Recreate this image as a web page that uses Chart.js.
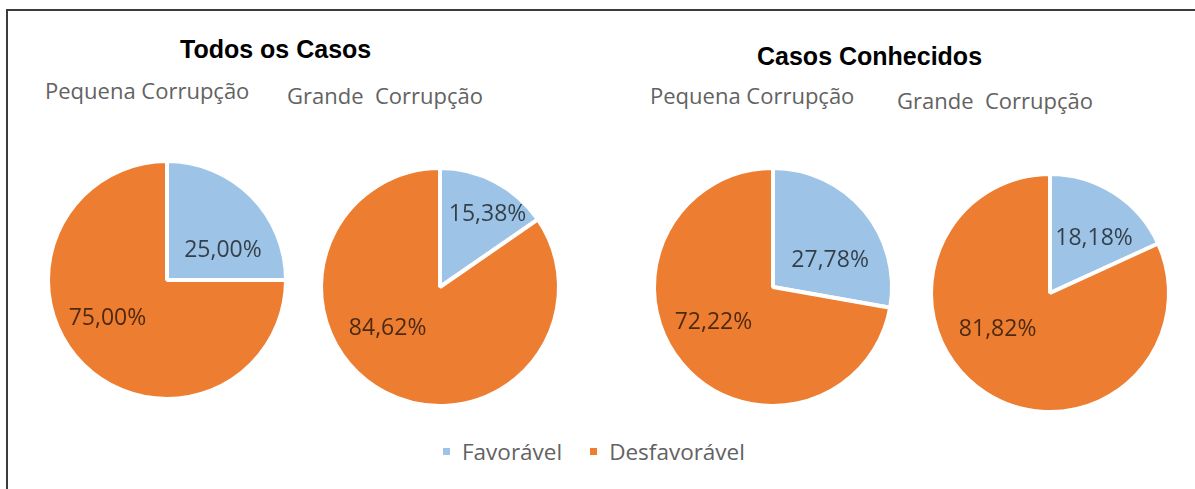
<!DOCTYPE html>
<html lang="pt">
<head>
<meta charset="utf-8">
<title>Pequena e Grande Corrupção</title>
<script src="https://cdn.jsdelivr.net/npm/chart.js@4.4.1/dist/chart.umd.min.js"></script>
<style>
    html, body { margin: 0; padding: 0; background: #fff; }
    #quadro { position: relative; width: 1195px; height: 489px; overflow: hidden; background: #fff; }
    #moldura {
        position: absolute; left: 6px; top: 9px; right: -10px; bottom: -10px;
        border-top: 2px solid #3c3c3c; border-left: 2px solid #3c3c3c;
    }
    .titulo {
        position: absolute; white-space: nowrap; line-height: 25px;
        font: bold 25px "Liberation Sans", Arial, sans-serif; color: #000;
    }
    .subtitulo {
        position: absolute; white-space: pre; line-height: 22px;
        font: 22px "Open Sans", sans-serif; color: #626262;
    }
    .pizza { position: absolute; width: 260px; height: 260px; }
    #legenda {
        position: absolute; left: 443px; top: 436px; display: flex; align-items: center;
        font: 22.5px "Open Sans", sans-serif; color: #626262; white-space: nowrap;
    }
    #legenda .item { display: flex; align-items: center; margin-right: 28px; }
    #legenda .marca { width: 7px; height: 7px; margin-right: 12px; }
</style>
</head>
<body>
<div id="quadro">
    <div id="moldura"></div>
</div>
<script>
"use strict";
/* Dados dos gráficos */
const grupos = ["Todos os Casos", "Casos Conhecidos"];
const tiposCorrupcao = ["Pequena Corrupção", "Grande  Corrupção", "Pequena Corrupção", "Grande  Corrupção"];
const categorias = ["Favorável", "Desfavorável"];
const favoravel = [25.00, 15.38, 27.78, 18.18];
const desfavoravel = [75.00, 84.62, 72.22, 81.82];

/* Aparência */
const cores = ["#9DC3E6", "#ED7D31"];

/* Posição de cada pizza (centro), do subtítulo e dos rótulos (fração do raio) */
const layoutPizzas = [
    { cx: 167, cy: 280, sub: [45, 75], rotulos: [[0.47, -0.25], [-0.50, 0.32]] },
    { cx: 440, cy: 287, sub: [287, 80], rotulos: [[0.40, -0.61], [-0.44, 0.35]] },
    { cx: 773, cy: 287, sub: [650, 80], rotulos: [[0.48, -0.22], [-0.50, 0.30]] },
    { cx: 1050, cy: 293, sub: [897, 85], rotulos: [[0.37, -0.46], [-0.44, 0.31]] }
];
const layoutGrupos = [[180, 35], [757, 42]];

const quadro = document.getElementById("quadro");

/* Formata 25 -> "25,00%" */
function formatarPercentual(valor) {
    return valor.toFixed(2).replace(".", ",") + "%";
}

/* Plugin simples para escrever o valor dentro de cada fatia */
const rotulosFatias = {
    id: "rotulosFatias",
    afterDatasetsDraw(chart, args, opts) {
        const ctx = chart.ctx;
        const valores = chart.data.datasets[0].data;
        chart.getDatasetMeta(0).data.forEach((arco, i) => {
            const { x, y, outerRadius } = arco.getProps(["x", "y", "outerRadius"], true);
            const [fx, fy] = opts.posicoes[i];
            ctx.save();
            ctx.font = "23px 'Open Sans', sans-serif";
            ctx.fillStyle = "rgba(0, 0, 0, 0.68)";
            ctx.textAlign = "center";
            ctx.textBaseline = "middle";
            ctx.fillText(formatarPercentual(valores[i]), x + fx * outerRadius, y + fy * outerRadius);
            ctx.restore();
        });
    }
};

/* Títulos dos grupos */
grupos.forEach((texto, i) => {
    const el = document.createElement("div");
    el.className = "titulo";
    el.textContent = texto;
    el.style.left = layoutGrupos[i][0] + "px";
    el.style.top = layoutGrupos[i][1] + "px";
    quadro.appendChild(el);
});

/* As quatro pizzas */
layoutPizzas.forEach((lp, i) => {
    const sub = document.createElement("div");
    sub.className = "subtitulo";
    sub.textContent = tiposCorrupcao[i];
    sub.style.left = lp.sub[0] + "px";
    sub.style.top = lp.sub[1] + "px";
    quadro.appendChild(sub);

    const caixa = document.createElement("div");
    caixa.className = "pizza";
    caixa.style.left = (lp.cx - 130) + "px";
    caixa.style.top = (lp.cy - 130) + "px";
    const canvas = document.createElement("canvas");
    canvas.width = 260;
    canvas.height = 260;
    caixa.appendChild(canvas);
    quadro.appendChild(caixa);

    new Chart(canvas, {
        type: "pie",
        data: {
            labels: categorias,
            datasets: [{
                data: [favoravel[i], desfavoravel[i]],
                backgroundColor: cores,
                borderColor: "#ffffff",
                borderWidth: 4,
                hoverOffset: 0
            }]
        },
        options: {
            responsive: false,
            animation: false,
            events: [],
            radius: 119,
            layout: { padding: 0 },
            plugins: {
                legend: { display: false },
                tooltip: { enabled: false },
                rotulosFatias: { posicoes: lp.rotulos }
            }
        },
        plugins: [rotulosFatias]
    });
});

/* Legenda comum */
const legenda = document.createElement("div");
legenda.id = "legenda";
categorias.forEach((nome, i) => {
    legenda.innerHTML += `
        <span class="item"><span class="marca" style="background:${cores[i]}"></span>${nome}</span>
    `;
});
quadro.appendChild(legenda);
</script>
</body>
</html>
